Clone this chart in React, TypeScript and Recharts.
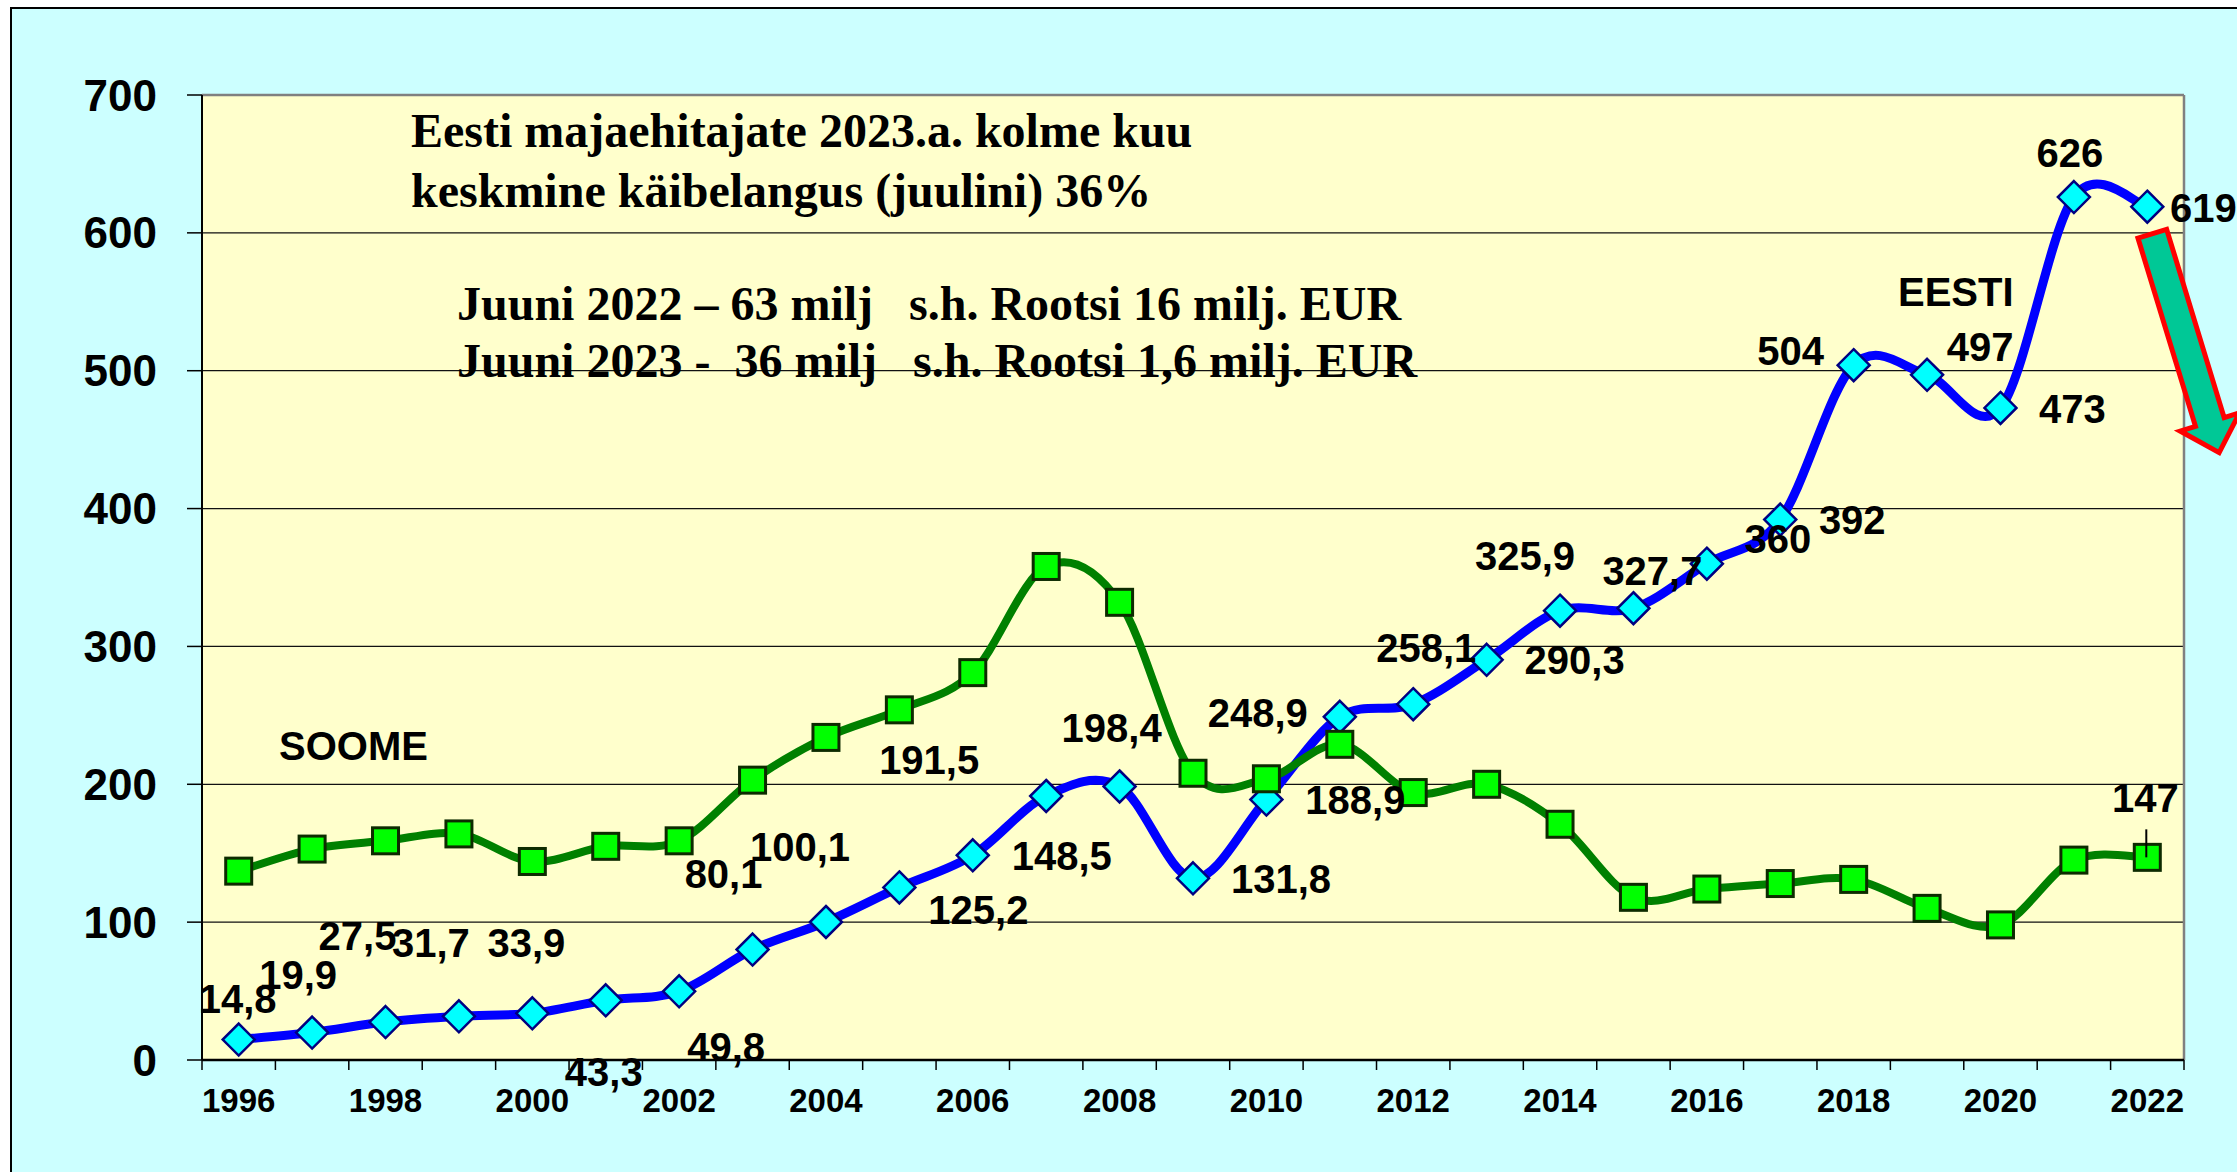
import { LineChart, Line, XAxis, YAxis, CartesianGrid, ReferenceLine } from 'recharts'

// categories
const years = [
  1996, 1997, 1998, 1999, 2000, 2001, 2002, 2003, 2004, 2005, 2006, 2007, 2008, 2009,
  2010, 2011, 2012, 2013, 2014, 2015, 2016, 2017, 2018, 2019, 2020, 2021, 2022,
]

// EESTI (blue line, labelled values)
const eesti = [
  14.8, 19.9, 27.5, 31.7, 33.9, 43.3, 49.8, 80.1, 100.1, 125.2, 148.5, 191.5, 198.4, 131.8,
  188.9, 248.9, 258.1, 290.3, 325.9, 327.7, 360, 392, 504, 497, 473, 626, 619,
]

// SOOME (green line)
const soome = [
  137, 153, 159, 164, 144, 155, 159, 203, 234, 254, 281, 358, 332, 208,
  204, 229, 194, 200, 171, 118, 124, 128, 131, 110, 98, 145, 147,
]

const yTicks = [0, 100, 200, 300, 400, 500, 600, 700]
const xLabelYears = [1996, 1998, 2000, 2002, 2004, 2006, 2008, 2010, 2012, 2014, 2016, 2018, 2020, 2022]

// where each EESTI label sits relative to its point (text centre x, baseline y)
const eestiLabelOffsets: [number, number][] = [
  [-1, -27], [-14, -44], [-28, -72], [-28, -59], [-6, -56], [-2, 86], [47, 70],
  [-29, -62], [-26, -61], [79, 37], [89, 15], [-117, -22], [-8, -44], [88, 15],
  [89, 14], [-82, 10], [13, -42], [88, 14], [-35, -41], [19, -23], [71, -11],
  [72, 14], [-63, 0], [53, -14], [72, 15], [-4, -30], [56, 15],
]

const rows = years.map((year, i) => ({ year, eesti: eesti[i], soome: soome[i] }))
const xTicks = [...years.map(y => y - 0.5), years[years.length - 1] + 0.5, ...xLabelYears]

const SANS = "'Liberation Sans', Arial, sans-serif"
const SERIF = "'Liberation Serif', 'Times New Roman', serif"
const NB = '\u00A0'

// Excel-like smoothed line (Catmull-Rom through the points)
function smoothCurve(context: any) {
  let pts: [number, number][] = []
  return {
    areaStart() {},
    areaEnd() {},
    lineStart() { pts = [] },
    lineEnd() {
      if (!pts.length) return
      context.moveTo(pts[0][0], pts[0][1])
      for (let i = 0; i < pts.length - 1; i++) {
        const p0 = pts[Math.max(i - 1, 0)]
        const p1 = pts[i]
        const p2 = pts[i + 1]
        const p3 = pts[Math.min(i + 2, pts.length - 1)]
        context.bezierCurveTo(
          p1[0] + (p2[0] - p0[0]) / 6, p1[1] + (p2[1] - p0[1]) / 6,
          p2[0] - (p3[0] - p1[0]) / 6, p2[1] - (p3[1] - p1[1]) / 6,
          p2[0], p2[1],
        )
      }
    },
    point(x: number, y: number) { pts.push([+x, +y]) },
  }
}

function Diamond(p: any) {
  const { cx, cy } = p
  if (cx == null || cy == null) return <g key={p.index} />
  const r = 16
  return (
    <polygon
      key={p.index}
      points={`${cx},${cy - r} ${cx + r},${cy} ${cx},${cy + r} ${cx - r},${cy}`}
      fill="#00FFFF" stroke="#000080" strokeWidth={2.5}
    />
  )
}

function Square(p: any) {
  const { cx, cy } = p
  if (cx == null || cy == null) return <g key={p.index} />
  const s = 26
  return (
    <rect key={p.index} x={cx - s / 2} y={cy - s / 2} width={s} height={s}
      fill="#00FF00" stroke="#0d2b00" strokeWidth={3} />
  )
}

const labelStyle = { fontFamily: SANS, fontWeight: 700, fontSize: 40, fill: '#000' }

function EestiLabel(p: any) {
  const { cx, cy, index, value } = p
  if (cx == null || cy == null) return <g key={index} />
  const [dx, dy] = eestiLabelOffsets[index] ?? [0, -20]
  const text = String(value).replace('.', ',')
  const last = index === years.length - 1
  let arrow = null
  if (last) {
    // downward arrow hanging from the final point
    const d = [0.292, 0.956]
    const n = [0.956, -0.292]
    const S = [cx + 5, cy + 27]
    const B = [S[0] + 197 * d[0], S[1] + 197 * d[1]]
    const T = [S[0] + 229 * d[0], S[1] + 229 * d[1]]
    const pt = (o: number[], k: number) => `${o[0] + k * n[0]},${o[1] + k * n[1]}`
    const pts = [pt(S, -15), pt(S, 15), pt(B, 15), pt(B, 31), `${T[0]},${T[1]}`, pt(B, -31), pt(B, -15)].join(' ')
    arrow = <polygon points={pts} fill="#00C896" stroke="#FF0000" strokeWidth={5} strokeLinejoin="miter" />
  }
  return (
    <g key={index}>
      {arrow}
      <text x={cx + dx} y={cy + dy} textAnchor="middle" {...labelStyle}>{text}</text>
    </g>
  )
}

function SoomeLabel(p: any) {
  const { cx, cy, index, value } = p
  if (cx == null || cy == null || index !== years.length - 1) return <g key={index} />
  return (
    <g key={index}>
      <line x1={cx - 1} y1={cy - 28} x2={cx - 1} y2={cy} stroke="#000" strokeWidth={2} />
      <text x={cx - 2} y={cy - 45} textAnchor="middle" {...labelStyle}>{String(value)}</text>
    </g>
  )
}

function XTick(p: any) {
  const { x, y, payload } = p
  const v = payload.value as number
  if (v % 1 !== 0) {
    return <line x1={x} y1={y} x2={x} y2={y + 10} stroke="#000" strokeWidth={1.5} />
  }
  return (
    <text x={x} y={y + 52} textAnchor="middle" fontFamily={SANS} fontWeight={700} fontSize={33} fill="#000">
      {v}
    </text>
  )
}

export default function App() {
  return (
    <div style={{ position: 'absolute', left: 0, top: 0, width: 2237, height: 1172, background: '#fff', overflow: 'hidden' }}>
      <div style={{
        position: 'absolute', left: 10, top: 7, right: 0, bottom: 0,
        background: '#CCFFFF', borderTop: '2px solid #000', borderLeft: '2px solid #000',
      }} />
      <div style={{ position: 'absolute', left: 0, top: 0 }}>
        <LineChart width={2237} height={1172} data={rows} margin={{ top: 95, right: 53, bottom: 52, left: 12 }}>
          <CartesianGrid vertical={false} fill="#FFFFCC" fillOpacity={1} stroke="#111" strokeWidth={1.3} />
          <XAxis
            dataKey="year" type="number" domain={[1995.5, 2022.5]} ticks={xTicks} interval={0}
            height={60} tickSize={0} tickMargin={0} tickLine={false}
            axisLine={{ stroke: '#000', strokeWidth: 2.5 }} tick={<XTick />}
          />
          <YAxis
            type="number" domain={[0, 700]} ticks={yTicks} interval={0} width={190}
            tickSize={15} tickMargin={30}
            axisLine={{ stroke: '#000', strokeWidth: 2 }}
            tickLine={{ stroke: '#000', strokeWidth: 1.5 }}
            tick={{ fill: '#000', fontSize: 44, fontWeight: 700, fontFamily: SANS }}
          />
          <ReferenceLine y={700} stroke="#808080" strokeWidth={2.5} />
          <ReferenceLine x={2022.5} stroke="#808080" strokeWidth={2.5} />
          <Line dataKey="eesti" type={smoothCurve as any} stroke="#0000FF" strokeWidth={9}
            dot={(p: any) => <Diamond {...p} />} activeDot={false} isAnimationActive={false} />
          <Line dataKey="soome" type={smoothCurve as any} stroke="#008000" strokeWidth={8}
            dot={(p: any) => <Square {...p} />} activeDot={false} isAnimationActive={false} />
          <Line dataKey="eesti" stroke="none" legendType="none"
            dot={(p: any) => <EestiLabel {...p} />} activeDot={false} isAnimationActive={false} />
          <Line dataKey="soome" stroke="none" legendType="none"
            dot={(p: any) => <SoomeLabel {...p} />} activeDot={false} isAnimationActive={false} />
        </LineChart>
      </div>
      <svg width={2237} height={1172} style={{ position: 'absolute', left: 0, top: 0, pointerEvents: 'none' }}>
        <g fontFamily={SERIF} fontWeight={700} fontSize={48} fill="#000">
          <text x={411} y={147}>Eesti majaehitajate 2023.a. kolme kuu</text>
          <text x={411} y={207}>keskmine käibelangus (juulini) 36%</text>
          <text x={457} y={320}>{`Juuni 2022 – 63 milj ${NB}${NB}s.h. Rootsi 16 milj. EUR`}</text>
          <text x={457} y={377}>{`Juuni 2023 - ${NB}36 milj ${NB}${NB}s.h. Rootsi 1,6 milj. EUR`}</text>
        </g>
        <g fontFamily={SANS} fontWeight={700} fontSize={40} fill="#000">
          <text x={279} y={760}>SOOME</text>
          <text x={1898} y={306}>EESTI</text>
        </g>
      </svg>
    </div>
  )
}
